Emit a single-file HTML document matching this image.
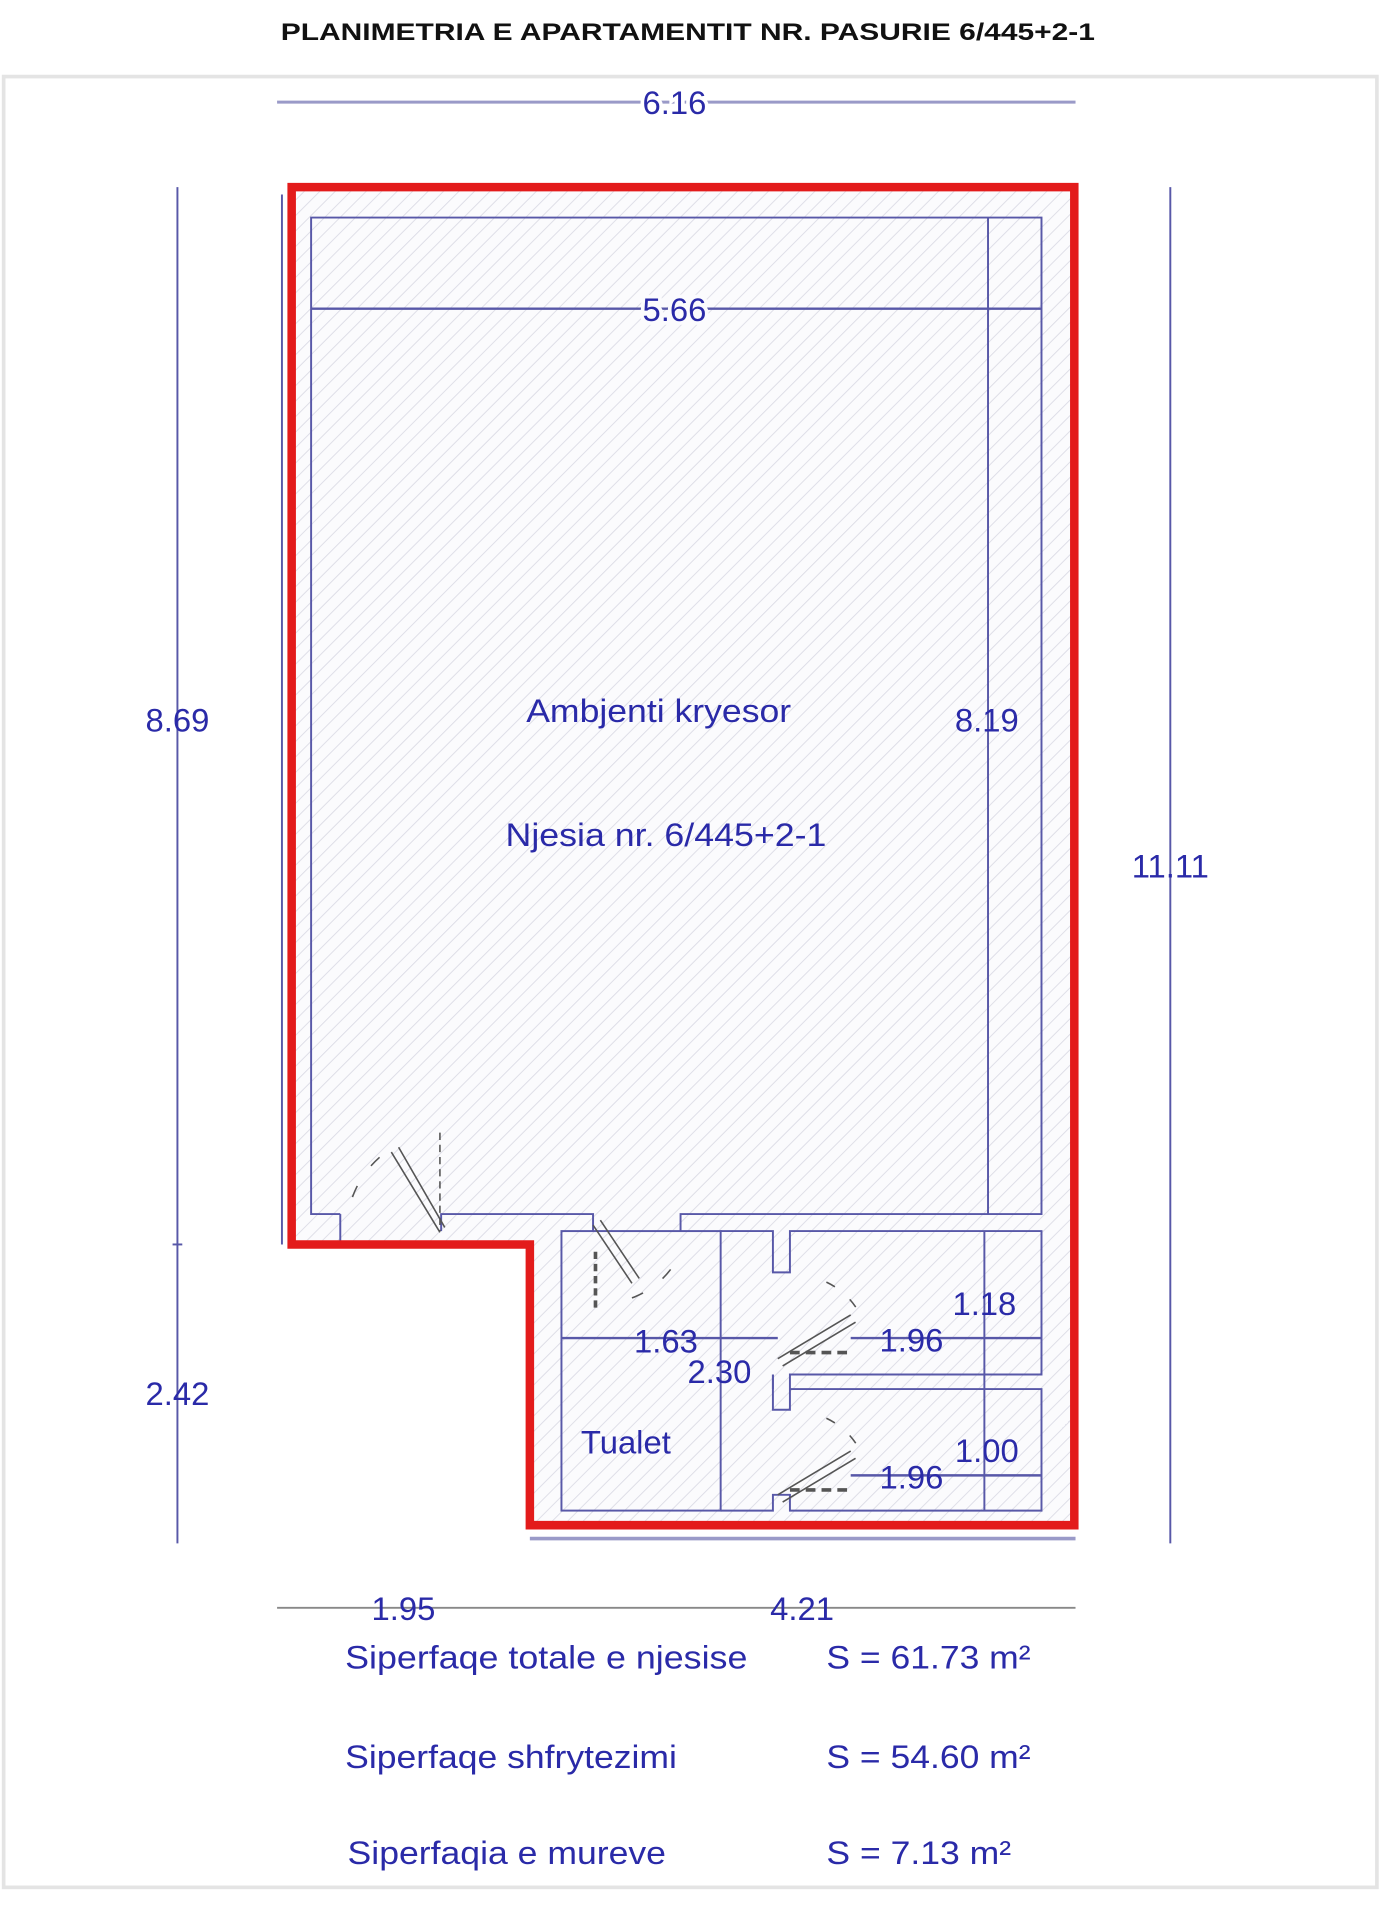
<!DOCTYPE html>
<html><head><meta charset="utf-8"><style>
html,body{margin:0;padding:0;background:#fff;width:1400px;height:1908px;overflow:hidden}
svg{display:block}
text{font-family:"Liberation Sans",sans-serif;fill:#2a2aa8}
</style></head><body>
<svg width="1400" height="1908" viewBox="0 0 1152 1570" preserveAspectRatio="none">
<defs>
<pattern id="h" patternUnits="userSpaceOnUse" width="9" height="9" patternTransform="rotate(45)">
<rect width="9" height="9" fill="#fbfbfd"/>
<line x1="0" y1="0" x2="0" y2="9" stroke="#dcdce6" stroke-width="1.5"/>
</pattern>
</defs>
<text x="231" y="33" font-size="20" font-weight="bold" textLength="670" lengthAdjust="spacingAndGlyphs" style="fill:#111">PLANIMETRIA E APARTAMENTIT NR. PASURIE 6/445+2-1</text>
<rect x="3" y="63" width="1130" height="1490" fill="none" stroke="#e4e4e4" stroke-width="3"/>
<path d="M240 154 H884 V1255 H436 V1024 H240 Z" fill="url(#h)"/>
<g stroke="#5858a8" stroke-width="1.6" fill="none">
<line x1="228" y1="84" x2="885" y2="84" stroke="#9a9ac8" stroke-width="2.5"/>
<path d="M280 999 H256 V179 H857 V999 H560 V1013"/>
<path d="M363 1013 V999 H488 V1013"/>
<line x1="280" y1="999" x2="280" y2="1022"/>
<line x1="256" y1="254" x2="857" y2="254" stroke-width="2"/>
<line x1="813" y1="179" x2="813" y2="999"/>
<line x1="232" y1="160" x2="232" y2="1024"/>
<line x1="146" y1="154" x2="146" y2="1270"/>
<line x1="963" y1="154" x2="963" y2="1270"/>
<line x1="142" y1="1024" x2="150" y2="1024"/>
<rect x="462" y="1013" width="131" height="230"/>
<path d="M593 1013 H636 V1047 H650 V1013 H857 V1131 H650 V1160 H636 V1131"/>
<path d="M650 1143 H857 V1243 H650 V1230 H636 V1243 H593"/>
<path d="M636 1131 V1143"/>
<line x1="810" y1="1013" x2="810" y2="1243"/>
<line x1="462" y1="1101" x2="640" y2="1101" stroke-width="2"/>
<line x1="700" y1="1101" x2="857" y2="1101" stroke-width="2"/>
<line x1="700" y1="1214" x2="857" y2="1214" stroke-width="2"/>
<line x1="436" y1="1266" x2="885" y2="1266" stroke="#9a9ac8" stroke-width="3"/>
<line x1="228" y1="1323" x2="885" y2="1323" stroke="#888" stroke-width="1.5"/>
<g stroke="#555" stroke-width="1.3">
<path d="M322 948 L362 1014 M328 944 L366 1010"/>
<path d="M362 932 V1013" stroke-dasharray="6 4"/>
<path d="M290 985 A80 80 0 0 1 322 945" stroke-dasharray="10 20"/>
<path d="M488 1008 L520 1056 M494 1004 L526 1052"/>
<path d="M490 1030 V1078" stroke-dasharray="6 4" stroke-width="3"/>
<path d="M520 1068 A70 70 0 0 0 555 1040" stroke-dasharray="10 20"/>
<path d="M640 1118 L700 1082 M644 1124 L704 1088"/>
<path d="M650 1113 H700" stroke-dasharray="8 5" stroke-width="3"/>
<path d="M680 1055 A60 60 0 0 1 708 1082" stroke-dasharray="8 16"/>
<path d="M640 1230 L700 1194 M644 1236 L704 1200"/>
<path d="M650 1226 H700" stroke-dasharray="8 5" stroke-width="3"/>
<path d="M680 1167 A60 60 0 0 1 708 1194" stroke-dasharray="8 16"/>
</g>
</g>
<path d="M240 154 H884 V1255 H436 V1024 H240 Z" fill="none" stroke="#e31b1b" stroke-width="7"/>
<g font-size="27" text-anchor="middle">
<text x="555" y="94" style="paint-order:stroke;stroke:#fff;stroke-width:6;fill:#2a2aa8">6.16</text>
<text x="555" y="264" style="paint-order:stroke;stroke:#fbfbfd;stroke-width:6">5.66</text>
<text x="146" y="602">8.69</text>
<text x="812" y="602">8.19</text>
<text x="963" y="722">11.11</text>
<text x="146" y="1156">2.42</text>
<text x="810" y="1082">1.18</text>
<text x="812" y="1203">1.00</text>
<text x="548" y="1113">1.63</text>
<text x="592" y="1138">2.30</text>
<text x="750" y="1112">1.96</text>
<text x="750" y="1225">1.96</text>
<text x="515" y="1196">Tualet</text>
<text x="332" y="1333">1.95</text>
<text x="660" y="1333">4.21</text>
</g>
<g font-size="27">
<text x="433" y="594" textLength="218" lengthAdjust="spacingAndGlyphs">Ambjenti kryesor</text>
<text x="416" y="696" textLength="264" lengthAdjust="spacingAndGlyphs">Njesia nr. 6/445+2-1</text>
<text x="284" y="1373" textLength="331" lengthAdjust="spacingAndGlyphs">Siperfaqe totale e njesise</text>
<text x="680" y="1373" textLength="168" lengthAdjust="spacingAndGlyphs">S = 61.73 m²</text>
<text x="284" y="1455" textLength="273" lengthAdjust="spacingAndGlyphs">Siperfaqe shfrytezimi</text>
<text x="680" y="1455" textLength="168" lengthAdjust="spacingAndGlyphs">S = 54.60 m²</text>
<text x="286" y="1534" textLength="262" lengthAdjust="spacingAndGlyphs">Siperfaqia e mureve</text>
<text x="680" y="1534" textLength="152" lengthAdjust="spacingAndGlyphs">S = 7.13 m²</text>
</g>
</svg>
</body></html>
